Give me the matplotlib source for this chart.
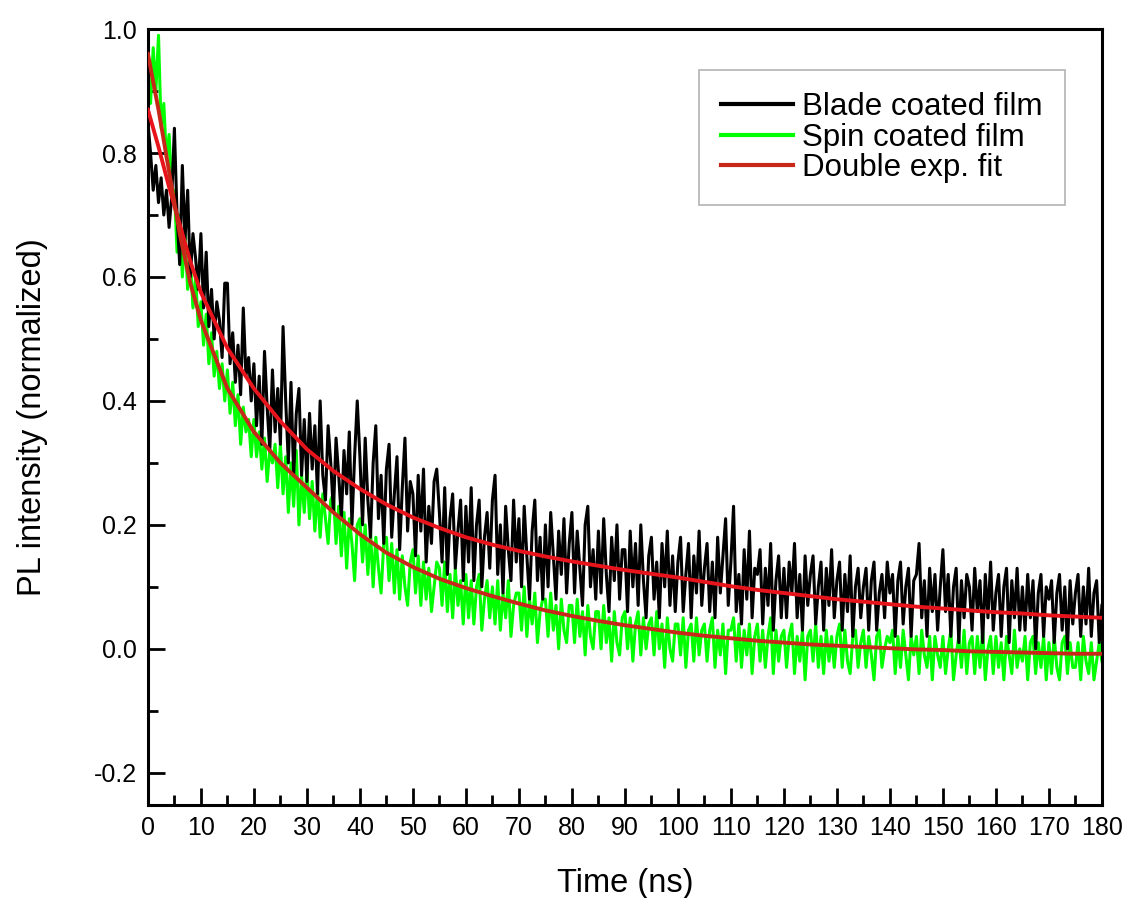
import numpy as np
import matplotlib
matplotlib.use("Agg")
import matplotlib.pyplot as plt
from matplotlib.ticker import MultipleLocator

params = {
    "font.family": ["Liberation Sans", "DejaVu Sans"],
    "axes.labelsize": 23.5,
    "xtick.labelsize": 18,
    "ytick.labelsize": 18,
    "legend.fontsize": 22.5,
}
plt.rcParams.update(params)

# time axis of the measured traces (ns), 0.5 ns step
time_step = 0.5
n_points = 361

blade = [
    0.85, 0.80, 0.74, 0.78, 0.72, 0.76, 0.70, 0.74, 0.68, 0.73,
    0.84, 0.70, 0.62, 0.78, 0.66, 0.74, 0.60, 0.67, 0.63, 0.58,
    0.67, 0.55, 0.64, 0.52, 0.58, 0.50, 0.56, 0.53, 0.47, 0.59,
    0.59, 0.46, 0.51, 0.43, 0.49, 0.41, 0.55, 0.44, 0.47, 0.40,
    0.46, 0.36, 0.44, 0.33, 0.48, 0.39, 0.32, 0.45, 0.35, 0.42,
    0.33, 0.52, 0.40, 0.30, 0.43, 0.28, 0.38, 0.42, 0.28, 0.37,
    0.27, 0.38, 0.29, 0.36, 0.25, 0.40, 0.28, 0.24, 0.36, 0.30,
    0.22, 0.34, 0.28, 0.21, 0.32, 0.25, 0.35, 0.20, 0.31, 0.40,
    0.31, 0.20, 0.34, 0.24, 0.18, 0.30, 0.36, 0.21, 0.28, 0.17,
    0.29, 0.33, 0.18, 0.25, 0.31, 0.16, 0.26, 0.34, 0.19, 0.27,
    0.25, 0.15, 0.28, 0.19, 0.29, 0.14, 0.23, 0.17, 0.27, 0.29,
    0.22, 0.14, 0.26, 0.12, 0.21, 0.25, 0.13, 0.19, 0.24, 0.11,
    0.23, 0.14, 0.26, 0.11, 0.20, 0.24, 0.10, 0.18, 0.22, 0.13,
    0.24, 0.28, 0.12, 0.20, 0.09, 0.23, 0.16, 0.11, 0.24, 0.14,
    0.21, 0.10, 0.23, 0.15, 0.08, 0.19, 0.24, 0.11, 0.18, 0.08,
    0.20, 0.10, 0.22, 0.15, 0.08, 0.19, 0.12, 0.21, 0.09, 0.17,
    0.22, 0.09, 0.19, 0.13, 0.07, 0.20, 0.23, 0.10, 0.16, 0.08,
    0.19, 0.09, 0.21, 0.12, 0.06, 0.18, 0.11, 0.20, 0.08, 0.16,
    0.16, 0.06, 0.19, 0.10, 0.17, 0.07, 0.20, 0.11, 0.05, 0.15,
    0.18, 0.08, 0.14, 0.05, 0.17, 0.10, 0.19, 0.07, 0.15, 0.06,
    0.14, 0.18, 0.06, 0.12, 0.17, 0.05, 0.15, 0.09, 0.19, 0.07,
    0.13, 0.17, 0.06, 0.14, 0.05, 0.18, 0.09, 0.15, 0.21, 0.07,
    0.14, 0.23, 0.06, 0.12, 0.04, 0.16, 0.08, 0.19, 0.05, 0.13,
    0.12, 0.16, 0.04, 0.13, 0.07, 0.17, 0.03, 0.11, 0.15, 0.05,
    0.13, 0.05, 0.14, 0.09, 0.17, 0.05, 0.12, 0.03, 0.15, 0.07,
    0.12, 0.15, 0.04, 0.10, 0.14, 0.03, 0.13, 0.07, 0.16, 0.05,
    0.11, 0.14, 0.03, 0.12, 0.06, 0.15, 0.02, 0.10, 0.13, 0.05,
    0.10, 0.13, 0.03, 0.11, 0.14, 0.03, 0.09, 0.12, 0.05, 0.14,
    0.09, 0.12, 0.02, 0.11, 0.14, 0.04, 0.10, 0.13, 0.02, 0.11,
    0.12, 0.17, 0.05, 0.11, 0.02, 0.13, 0.06, 0.12, 0.03, 0.10,
    0.16, 0.06, 0.12, 0.02, 0.10, 0.13, 0.01, 0.11, 0.05, 0.12,
    0.10, 0.03, 0.13, 0.06, 0.11, 0.01, 0.12, 0.05, 0.14, 0.03,
    0.09, 0.12, 0.02, 0.10, 0.13, 0.01, 0.11, 0.05, 0.13, 0.03,
    0.10, 0.03, 0.12, 0.05, 0.11, 0.00, 0.09, 0.12, 0.02, 0.10,
    0.08, 0.11, 0.01, 0.09, 0.12, 0.03, 0.10, 0.00, 0.11, 0.04,
    0.09, 0.12, 0.02, 0.10, 0.04, 0.13, 0.02, 0.09, 0.11, 0.01,
    0.07,
]

spin = [
    0.93, 0.88, 0.97, 0.90, 0.99, 0.84, 0.88, 0.79, 0.83, 0.74,
    0.74, 0.64, 0.70, 0.60, 0.67, 0.58, 0.63, 0.55, 0.60, 0.52,
    0.56, 0.49, 0.54, 0.46, 0.51, 0.44, 0.48, 0.42, 0.46, 0.40,
    0.45, 0.38, 0.43, 0.36, 0.41, 0.33, 0.39, 0.35, 0.37, 0.31,
    0.37, 0.31, 0.35, 0.29, 0.34, 0.27, 0.32, 0.30, 0.33, 0.26,
    0.33, 0.25, 0.31, 0.22, 0.30, 0.23, 0.32, 0.20, 0.28, 0.22,
    0.29, 0.21, 0.27, 0.19, 0.26, 0.18, 0.25, 0.21, 0.17, 0.24,
    0.25, 0.17, 0.23, 0.15, 0.22, 0.13, 0.21, 0.17, 0.11, 0.20,
    0.21, 0.14, 0.20, 0.12, 0.19, 0.10, 0.18, 0.13, 0.09, 0.17,
    0.18, 0.11, 0.17, 0.09, 0.16, 0.08, 0.15, 0.10, 0.07, 0.14,
    0.16, 0.09, 0.15, 0.07, 0.14, 0.08, 0.13, 0.06, 0.10, 0.14,
    0.13, 0.07, 0.14, 0.06, 0.12, 0.05, 0.13, 0.07, 0.11, 0.04,
    0.12, 0.05, 0.11, 0.04, 0.10, 0.12, 0.03, 0.08, 0.11, 0.05,
    0.10, 0.04, 0.11, 0.03, 0.09, 0.05, 0.11, 0.02, 0.07, 0.09,
    0.09, 0.03, 0.10, 0.02, 0.08, 0.04, 0.09, 0.01, 0.06, 0.08,
    0.08, 0.02, 0.09, 0.03, 0.07, 0.00, 0.08, 0.03, 0.01, 0.07,
    0.07, 0.01, 0.08, 0.02, 0.06, -0.01, 0.07, 0.02, 0.00, 0.06,
    0.06, 0.00, 0.07, 0.01, 0.05, -0.02, 0.06, 0.01, -0.01, 0.05,
    0.06, 0.00, 0.05, -0.02, 0.04, 0.06, -0.01, 0.05, 0.00, 0.04,
    0.05, -0.01, 0.06, 0.00, 0.04, -0.03, 0.05, 0.00, -0.02, 0.04,
    0.04, -0.01, 0.05, -0.03, 0.03, 0.04, -0.02, 0.05, -0.01, 0.03,
    0.04, -0.02, 0.03, 0.05, -0.03, 0.03, -0.01, 0.04, -0.04, 0.03,
    0.03, 0.05, -0.02, 0.04, -0.03, 0.03, -0.01, 0.04, -0.04, 0.02,
    0.04, -0.02, 0.03, -0.03, 0.02, 0.05, -0.04, 0.03, -0.02, 0.02,
    0.03, -0.03, 0.02, 0.04, -0.04, 0.02, -0.02, 0.03, -0.05, 0.02,
    0.03, -0.02, 0.04, -0.03, 0.02, -0.04, 0.03, -0.02, 0.02, -0.03,
    0.02, 0.04, -0.03, 0.03, -0.02, -0.04, 0.02, 0.03, -0.03, 0.01,
    0.03, -0.03, 0.02, -0.01, -0.05, 0.02, 0.03, -0.03, 0.00, 0.02,
    0.01, 0.03, -0.04, 0.02, -0.03, 0.03, -0.01, -0.05, 0.02, -0.01,
    0.02, -0.04, 0.03, -0.01, -0.03, 0.02, -0.05, 0.02, -0.01, -0.03,
    0.02, -0.04, 0.00, 0.03, -0.05, -0.01, 0.02, -0.03, 0.03, -0.04,
    0.01, 0.02, -0.04, 0.02, -0.03, 0.03, -0.05, 0.00, 0.02, -0.04,
    0.02, -0.03, 0.01, -0.05, 0.02, -0.01, -0.04, 0.03, -0.03, 0.00,
    -0.02, 0.02, -0.05, 0.01, 0.02, -0.04, 0.01, -0.03, 0.02, -0.05,
    0.01, -0.04, 0.02, -0.03, -0.05, 0.01, 0.02, -0.04, 0.01, -0.03,
    -0.03, 0.01, -0.05, 0.02, -0.02, -0.04, 0.01, -0.05, -0.02, 0.01,
    -0.02,
]

# double exponential fit curves
fit_t = [0, 2, 4, 6, 8, 10, 15, 20, 25, 30, 35, 40, 45, 50, 55, 60, 65, 70,
         75, 80, 85, 90, 95, 100, 105, 110, 115, 120, 125, 130, 135, 140,
         145, 150, 155, 160, 165, 170, 175, 180]
fit_blade = [0.87, 0.81, 0.745, 0.685, 0.625, 0.575, 0.485, 0.42, 0.367, 0.322,
             0.287, 0.258, 0.233, 0.212, 0.195, 0.18, 0.168, 0.158, 0.149, 0.141,
             0.134, 0.127, 0.121, 0.115, 0.108, 0.101, 0.095, 0.09, 0.085,
             0.08, 0.076, 0.072, 0.068, 0.065, 0.062, 0.059, 0.057, 0.054,
             0.052, 0.05]
fit_spin = [0.96, 0.87, 0.77, 0.67, 0.59, 0.53, 0.42, 0.35, 0.30, 0.26,
            0.22, 0.185, 0.155, 0.132, 0.113, 0.098, 0.085, 0.073, 0.062, 0.053,
            0.045, 0.038, 0.032, 0.026, 0.021, 0.017, 0.013, 0.01, 0.007,
            0.005, 0.003, 0.001, -0.001, -0.002, -0.004, -0.005, -0.006,
            -0.007, -0.008, -0.008]

t = np.arange(n_points) * time_step

fig = plt.figure(figsize=(11.29, 8.98), dpi=100)
ax = fig.add_axes([0.131, 0.1036, 0.845, 0.864])

ax.plot(t, spin, color="#00ff00", linewidth=2.2, label="Spin coated film", zorder=2)
ax.plot(t, blade, color="black", linewidth=2.2, label="Blade coated film", zorder=3)
ax.plot(fit_t, fit_blade, color="#e8141c", linewidth=2.8, zorder=4)
ax.plot(fit_t, fit_spin, color="#c8281a", linewidth=2.8, label="Double exp. fit", zorder=4)

ax.set_xlim(0, 180)
ax.set_ylim(-0.252, 1.0)
ax.xaxis.set_major_locator(MultipleLocator(10))
ax.xaxis.set_minor_locator(MultipleLocator(5))
ax.yaxis.set_major_locator(MultipleLocator(0.2))
ax.yaxis.set_minor_locator(MultipleLocator(0.1))
ax.yaxis.set_major_formatter(lambda v, p: "{:.1f}".format(v) if abs(v) > 1e-9 else "0.0")

ax.tick_params(which="major", direction="in", length=12, width=2, top=False, right=False, pad=8)
ax.tick_params(which="minor", direction="in", length=7, width=2, top=False, right=False)
for s in ax.spines.values():
    s.set_linewidth(2.2)

ax.set_xlabel("Time (ns)", labelpad=20)
ax.set_ylabel("PL intensity (normalized)", labelpad=33)

h, l = ax.get_legend_handles_labels()
order = [l.index("Blade coated film"), l.index("Spin coated film"), l.index("Double exp. fit")]
leg = ax.legend([h[i] for i in order], [l[i] for i in order], loc="upper right",
                bbox_to_anchor=(0.961, 0.947), borderaxespad=0, fancybox=False,
                handlelength=2.3, labelspacing=0.02, borderpad=0.7, handletextpad=0.3)
leg.get_frame().set_edgecolor("#a0a0a0")
leg.get_frame().set_linewidth(1.2)
for line in leg.get_lines():
    line.set_linewidth(3.0)

plt.savefig("out.png", dpi=100)
